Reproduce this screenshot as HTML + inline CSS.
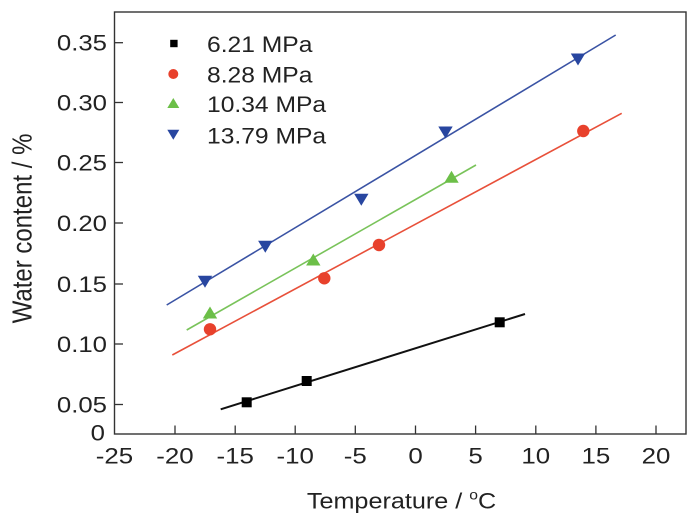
<!DOCTYPE html>
<html>
<head>
<meta charset="utf-8">
<style>
  html,body{margin:0;padding:0;background:#fff;}
  svg{display:block;}
  text{font-family:"Liberation Sans", Arial, sans-serif; fill:#222;}
</style>
</head>
<body>
<svg width="700" height="522" viewBox="0 0 700 522" xmlns="http://www.w3.org/2000/svg">
  <rect x="0" y="0" width="700" height="522" fill="#fff"/>

  <!-- frame -->
  <rect x="114.5" y="12" width="571.5" height="422" fill="none" stroke="#333" stroke-width="1.4"/>

  <!-- y ticks -->
  <g stroke="#333" stroke-width="1.3">
    <line x1="114.5" y1="42.7" x2="123" y2="42.7"/>
    <line x1="114.5" y1="102.5" x2="123" y2="102.5"/>
    <line x1="114.5" y1="162.5" x2="123" y2="162.5"/>
    <line x1="114.5" y1="223" x2="123" y2="223"/>
    <line x1="114.5" y1="284" x2="123" y2="284"/>
    <line x1="114.5" y1="344" x2="123" y2="344"/>
    <line x1="114.5" y1="404.5" x2="123" y2="404.5"/>
  </g>
  <!-- x ticks -->
  <g stroke="#333" stroke-width="1.3">
    <line x1="175" y1="425.5" x2="175" y2="434"/>
    <line x1="235.2" y1="425.5" x2="235.2" y2="434"/>
    <line x1="295.2" y1="425.5" x2="295.2" y2="434"/>
    <line x1="355.3" y1="425.5" x2="355.3" y2="434"/>
    <line x1="415.5" y1="425.5" x2="415.5" y2="434"/>
    <line x1="475.6" y1="425.5" x2="475.6" y2="434"/>
    <line x1="535.8" y1="425.5" x2="535.8" y2="434"/>
    <line x1="595.9" y1="425.5" x2="595.9" y2="434"/>
    <line x1="656" y1="425.5" x2="656" y2="434"/>
  </g>

  <!-- y tick labels -->
  <g font-size="22" text-anchor="end">
    <text transform="translate(107,50.6) scale(1.17,1)">0.35</text>
    <text transform="translate(107,110.4) scale(1.17,1)">0.30</text>
    <text transform="translate(107,170.4) scale(1.17,1)">0.25</text>
    <text transform="translate(107,230.9) scale(1.17,1)">0.20</text>
    <text transform="translate(107,291.9) scale(1.17,1)">0.15</text>
    <text transform="translate(107,351.9) scale(1.17,1)">0.10</text>
    <text transform="translate(107,412.4) scale(1.17,1)">0.05</text>
    <text transform="translate(105,440.6) scale(1.17,1)">0</text>
  </g>

  <!-- x tick labels -->
  <g font-size="22.5" text-anchor="middle">
    <text transform="translate(114.5,463.5) scale(1.15,1)">-25</text>
    <text transform="translate(175,463.5) scale(1.15,1)">-20</text>
    <text transform="translate(235.2,463.5) scale(1.15,1)">-15</text>
    <text transform="translate(295.2,463.5) scale(1.15,1)">-10</text>
    <text transform="translate(355.3,463.5) scale(1.15,1)">-5</text>
    <text transform="translate(415.5,463.5) scale(1.15,1)">0</text>
    <text transform="translate(475.6,463.5) scale(1.15,1)">5</text>
    <text transform="translate(535.8,463.5) scale(1.15,1)">10</text>
    <text transform="translate(595.9,463.5) scale(1.15,1)">15</text>
    <text transform="translate(656,463.5) scale(1.15,1)">20</text>
  </g>

  <!-- axis titles -->
  <text font-size="22.5" text-anchor="middle" transform="translate(401.5,508.5) scale(1.12,1)">Temperature / <tspan font-size="14" dy="-9">o</tspan><tspan dy="9">C</tspan></text>
  <text font-size="24" text-anchor="middle" transform="translate(31.5,228.5) scale(1.15,1) rotate(-90)">Water content / %</text>

  <!-- series lines -->
  <line x1="220.7" y1="409.3" x2="525" y2="314" stroke="#111" stroke-width="2"/>
  <line x1="172.3" y1="355" x2="621.7" y2="113.3" stroke="#e8503a" stroke-width="1.6"/>
  <line x1="186.7" y1="330" x2="476" y2="165" stroke="#79c35a" stroke-width="1.6"/>
  <line x1="166.7" y1="305" x2="615.7" y2="35" stroke="#3a53a4" stroke-width="1.6"/>

  <!-- black squares -->
  <g fill="#000">
    <rect x="241.7" y="397.3" width="10" height="10"/>
    <rect x="301.7" y="376" width="10" height="10"/>
    <rect x="494.7" y="317.3" width="10" height="10"/>
  </g>
  <!-- red circles -->
  <g fill="#e8412c">
    <circle cx="210" cy="329.3" r="6.2"/>
    <circle cx="324.3" cy="278.3" r="6.2"/>
    <circle cx="379" cy="245" r="6.2"/>
    <circle cx="583.3" cy="131" r="6.2"/>
  </g>
  <!-- green up triangles -->
  <g fill="#6cbf48">
    <polygon points="210,306.5 217.2,318.5 202.8,318.5"/>
    <polygon points="313.3,253.5 320.5,265.5 306.1,265.5"/>
    <polygon points="451.5,170.7 458.7,182.7 444.3,182.7"/>
  </g>
  <!-- blue down triangles -->
  <g fill="#2846a0">
    <polygon points="197.8,275.7 212.2,275.7 205,287.7"/>
    <polygon points="258.1,240.7 272.5,240.7 265.3,252.7"/>
    <polygon points="354.1,193.7 368.5,193.7 361.3,205.7"/>
    <polygon points="438.3,126.5 452.7,126.5 445.5,138.5"/>
    <polygon points="570.8,53.5 585.2,53.5 578,65.5"/>
  </g>

  <!-- legend -->
  <rect x="170.2" y="39.8" width="7.4" height="7.4" fill="#000"/>
  <circle cx="173.3" cy="74" r="5" fill="#e8412c"/>
  <polygon points="173.3,98 179.3,108 167.3,108" fill="#6cbf48"/>
  <polygon points="167.3,129.7 179.3,129.7 173.3,139.7" fill="#2846a0"/>
  <g font-size="22">
    <text transform="translate(207,52) scale(1.12,1)">6.21 MPa</text>
    <text transform="translate(207,82.6) scale(1.12,1)">8.28 MPa</text>
    <text transform="translate(207,111.8) scale(1.12,1)">10.34 MPa</text>
    <text transform="translate(207,143.3) scale(1.12,1)">13.79 MPa</text>
  </g>
</svg>
</body>
</html>
